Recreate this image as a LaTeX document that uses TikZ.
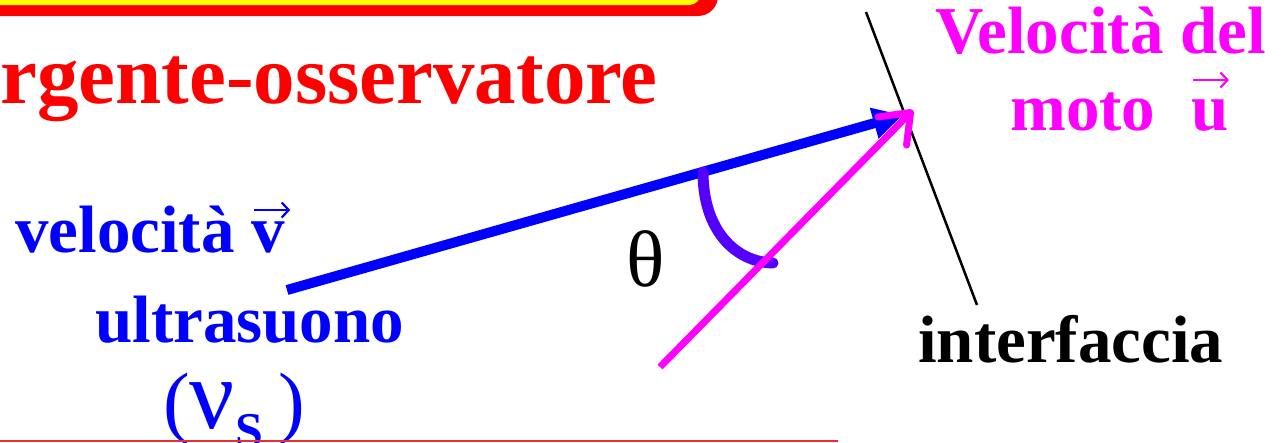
\documentclass[tikz,border=0pt]{standalone}
\usepackage{fontspec}
\setmainfont{Liberation Serif}
\usetikzlibrary{arrows.meta}
\definecolor{vblue}{RGB}{0,0,255}
\definecolor{vmag}{RGB}{255,0,255}
\definecolor{vred}{RGB}{255,0,0}
\definecolor{vyel}{RGB}{255,255,0}
\definecolor{varc}{RGB}{85,0,255}
\definecolor{vline}{RGB}{225,50,50}
\newcommand\arrowover[3]{\ooalign{#1\cr\hidewidth\hspace{#3}\raisebox{#2}{\tikz[baseline=0pt]\draw[line width=2.2pt,-{Straight Barb[length=7pt,width=15pt]}] (0pt,0pt) -- (36pt,0pt);}\hidewidth\cr}}
\begin{document}
\begin{tikzpicture}[x=1pt,y=-1pt,
  lab/.style={inner sep=0pt, anchor=base west, font=\fontsize{67}{67}\selectfont\bfseries}]
\useasboundingbox (0,0) rectangle (1283,442);
% banner
\fill[vred, rounded corners=20] (-60,-60) rectangle (718,16);
\fill[vyel, rounded corners=12] (-60,-60) rectangle (701,5);
% texts
\node[lab, text=vred, font=\fontsize{83}{83}\selectfont\bfseries] (title) at (0,103) {rgente-osservatore};
\node[lab, text=vblue] (vel) at (15,252) {velocità \arrowover{v}{42pt}{8pt}};
\node[lab, text=vblue] (ultra) at (95,342) {ultrasuono};
\node[lab, text=vblue, font=\fontsize{80}{80}\selectfont] (nu) at (163,428) {(\fontsize{100}{100}\selectfont ν\raisebox{-19pt}{\bfseries\fontsize{50}{50}\selectfont S}\hspace{16pt}\fontsize{80}{80}\selectfont)};
\node[lab, text=vmag] (vm1) at (935,53) {Velocità del};
\node[lab, text=vmag] (vm2) at (1010,130) {moto\hspace{36pt}\arrowover{u}{50pt}{2pt}};
\node[lab] (intf) at (918,362) {interfaccia};
\node[anchor=base west, inner sep=0pt, font=\fontsize{80}{80}\selectfont] (th) at (626,286) {θ};
% geometry
\coordinate (i1) at (866,12);
\coordinate (i2) at (977,305);
\coordinate (bS) at (287,290);
\coordinate (bE) at (903,115);
\coordinate (mS) at (660,367);
\coordinate (mE) at (913,110);
\coordinate (a1) at (703,172);
\coordinate (a2) at (773,263);
\coordinate (l1) at (0,441);
\coordinate (l2) at (838,441);
\draw[line width=2.5pt] (i1) -- (i2);
\draw[vblue, line width=10pt, -{Triangle[length=30pt,width=30pt]}] (bS) -- (bE);
\draw[varc, line width=11pt, line cap=round] (a1) .. controls (703,230) and (735,262) .. (a2);
\draw[vmag, line width=7pt, -{Straight Barb[length=26pt,width=40pt,round]}] (mS) -- (mE);
\draw[vline, line width=1.5pt] (l1) -- (l2);
\end{tikzpicture}
\end{document}
